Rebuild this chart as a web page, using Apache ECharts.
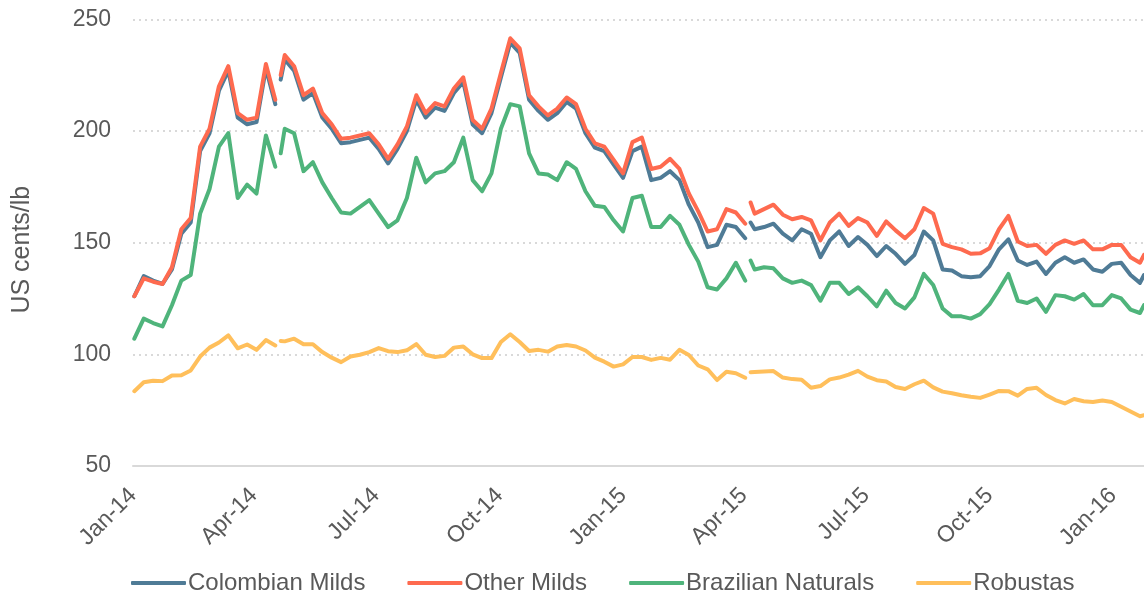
<!DOCTYPE html>
<html>
<head>
<meta charset="utf-8">
<script src="https://cdn.jsdelivr.net/npm/echarts@6/dist/echarts.min.js"></script>
<style>
html,body{margin:0;padding:0;background:#fff;}
#chart{width:1144px;height:593px;}
</style>
</head>
<body>
<div id="chart"></div>
<script>
// Weekly readings (Thursdays) from the reference; null = market holiday gap
const dates = [
'2014-01-02','2014-01-09','2014-01-16','2014-01-23','2014-01-30','2014-02-06','2014-02-13','2014-02-20','2014-02-27',
'2014-03-06','2014-03-13','2014-03-20','2014-03-27','2014-04-03','2014-04-10','2014-04-17','2014-04-18','2014-04-21','2014-04-24',
'2014-05-01','2014-05-08','2014-05-15','2014-05-22','2014-05-29','2014-06-05','2014-06-12','2014-06-19','2014-06-26',
'2014-07-03','2014-07-10','2014-07-17','2014-07-24','2014-07-31','2014-08-07','2014-08-14','2014-08-21','2014-08-28',
'2014-09-04','2014-09-11','2014-09-18','2014-09-25','2014-10-02','2014-10-09','2014-10-16','2014-10-23','2014-10-30',
'2014-11-06','2014-11-13','2014-11-20','2014-11-27','2014-12-04','2014-12-11','2014-12-18','2014-12-25',
'2015-01-01','2015-01-08','2015-01-15','2015-01-22','2015-01-29','2015-02-05','2015-02-12','2015-02-19','2015-02-26',
'2015-03-05','2015-03-12','2015-03-19','2015-03-26','2015-04-02','2015-04-03','2015-04-06','2015-04-09','2015-04-16','2015-04-23','2015-04-30',
'2015-05-07','2015-05-14','2015-05-21','2015-05-28','2015-06-04','2015-06-11','2015-06-18','2015-06-25',
'2015-07-02','2015-07-09','2015-07-16','2015-07-23','2015-07-30','2015-08-06','2015-08-13','2015-08-20','2015-08-27',
'2015-09-03','2015-09-10','2015-09-17','2015-09-24','2015-10-01','2015-10-08','2015-10-15','2015-10-22','2015-10-29',
'2015-11-05','2015-11-12','2015-11-19','2015-11-26','2015-12-03','2015-12-10','2015-12-17','2015-12-24','2015-12-31',
'2016-01-07','2016-01-14','2016-01-21','2016-01-24'
];

const colombianMilds = [
126,135,133,131.5,138,154,159,
191,199,218,227,206,203,204,228,212,null,223,232,227,214,217,206,201,194.5,195,196,197,192,185.5,192,200,
214,206,210.5,209,217,222,202.9,199,208,224,239.5,235,214,209,205,208,213,210,199,192.5,191,185,179,
191,193,178,179,182,178,167,159,
148,149,158,157,152,null,159,156,157,158.5,154,151,156,154,
143.5,151,155,148.5,152.5,149,144,148.5,145,140.5,144.5,155,151,138,137.5,135,134.5,135,139.5,147,
151.5,142,140,141.5,136,141,143.5,141,142.5,138,137,140.5,141,135.5,132,
135.5
];

const otherMilds = [
126,134,132.5,131.5,139,156,161,193,201,220,
229,208,205,206,230,214,null,225,234,229,216,219,
208,203,196.5,197,198,199,194,187.5,194,202,
216,208,212.5,211,219,224,204.9,201,210,226,
241.5,237,216,211,207,210,215,212,201,194.5,
193,187,181,195,197,183,184,187.5,183,172,
164,155,156,165,163.5,158.5,null,168,163,165,167,162.5,
160.5,161.5,160,151,159,163,157.5,161,159,153,
159.5,155.5,152,156,165.5,163,149.5,148,147,145,
145.2,147.5,156,162,150.5,148.5,149,145,149,151,
149.5,151,147,147,149,149,143.5,141,
144.5
];

const brazilianNaturals = [
107,116,114,112.5,122,133,135.5,163,174,193,
199,170,176,172,198,184,null,190,201,199,182,186,
177,170,163.5,163,166,169,163,157,160,170,
188,177,181,182,186,197,178,173,181,201,
212,211,190,181,180.5,178,186,183,173,166.5,
166,160,155,170,171,157,157,162,158,149,
141.5,130,129,134,141,133,null,142,138,139,138.5,134,
132,133,131,124,132,132,127,130,126,121.5,
128.5,123,120.5,125.5,136,131,120.5,117,117,116,
118,122.5,129,136,124,123,125,119,126.5,126,
124.5,127,122,122,126.5,125,120,118.5,
122
];

const robustas = [
83.5,87.5,88.2,88,90.5,90.6,92.8,99,103,105.3,
108.5,102.7,104.4,102,106.4,104,null,106,105.8,107,104.5,104.5,
101,98.5,96.5,99,99.8,101,102.8,101.4,101,101.8,
104.6,99.8,98.8,99.3,103,103.5,100,98.3,98.3,105.5,
109,105.5,101.5,102,101.2,103.5,104.2,103.5,101.7,98.5,
96.7,94.5,95.5,98.8,98.8,97.5,98.4,97.6,102,99.7,
95,93.3,88.5,92.2,91.5,89.5,null,92,92.1,92.3,92.5,89.6,
88.9,88.6,85,85.8,88.8,89.6,90.9,92.6,90,88.4,
87.8,85.4,84.5,86.6,88.2,85.2,83.3,82.6,81.7,81,
80.5,82,83.6,83.5,81.5,84.5,85,81.8,79.5,78,
80,79,78.7,79.3,78.7,76.5,74.4,72.3,
72.7
];

const seriesNames = ['Colombian Milds','Other Milds','Brazilian Naturals','Robustas'];
const seriesColors = ['#4f7b96','#fe6a4f','#4fb47b','#ffbf5b'];
const tickDates = ['2014-01-01','2014-04-01','2014-07-01','2014-10-01','2015-01-01','2015-04-01','2015-07-01','2015-10-01','2016-01-01'];
const tickLabels = ['Jan-14','Apr-14','Jul-14','Oct-14','Jan-15','Apr-15','Jul-15','Oct-15','Jan-16'];
const axisMinDate = '2014-01-01';
const axisMaxDate = '2016-01-24';
const yMin = 50, yMax = 250, yStep = 50;

function ts(s){ const p = s.split('-').map(Number); return Date.UTC(p[0], p[1]-1, p[2]); }
const tickTs = tickDates.map(ts);

const allValues = [colombianMilds, otherMilds, brazilianNaturals, robustas];
const FONT = 'Liberation Sans, Arial, sans-serif';
const TXT = '#595959';

const chart = echarts.init(document.getElementById('chart'), null, {renderer:'canvas'});
chart.setOption({
  animation: false,
  backgroundColor: '#ffffff',
  grid: { left: 133, right: 0, top: 19.3, bottom: 127, containLabel: false },
  legend: {
    data: seriesNames,
    left: 126, top: 566,
    icon: 'roundRect',
    itemWidth: 55, itemHeight: 4,
    itemGap: 42,
    textStyle: { fontFamily: FONT, fontSize: 24, color: TXT, padding: [0,0,0,-3] }
  },
  xAxis: {
    type: 'value',
    min: ts(axisMinDate), max: ts(axisMaxDate),
    axisLine: { show: true, onZero: false, lineStyle: { color: '#d9d9d9', width: 2 } },
    axisTick: { show: false },
    splitLine: { show: false },
    axisLabel: {
      customValues: tickTs,
      rotate: 45,
      margin: 26,
      fontFamily: FONT, fontSize: 23, color: TXT,
      hideOverlap: false,
      formatter: function(v){
        let best = 0, bd = Infinity;
        tickTs.forEach((t,k)=>{ const dd = Math.abs(t - v); if (dd < bd){bd = dd; best = k;} });
        return tickLabels[best];
      }
    }
  },
  yAxis: {
    type: 'value',
    min: yMin, max: yMax, interval: yStep,
    name: 'US cents/lb',
    nameLocation: 'middle',
    nameGap: 98,
    nameTextStyle: { fontFamily: FONT, fontSize: 25, color: TXT, padding: [0, 14, 0, 0] },
    axisLine: { show: false },
    axisTick: { show: false },
    axisLabel: { margin: 22, fontFamily: FONT, fontSize: 23, color: TXT },
    splitLine: { show: true, lineStyle: { color: '#d9d9d9', width: 2, type: [2, 4] } }
  },
  series: seriesNames.map((n, k) => ({
    name: n,
    type: 'line',
    showSymbol: false,
    symbol: 'none',
    smooth: false,
    connectNulls: false,
    color: seriesColors[k],
    lineStyle: { width: 4, color: seriesColors[k], join: 'round', cap: 'round' },
    data: dates.map((d, i) => [ts(d), allValues[k][i]])
  }))
});
</script>
</body>
</html>
